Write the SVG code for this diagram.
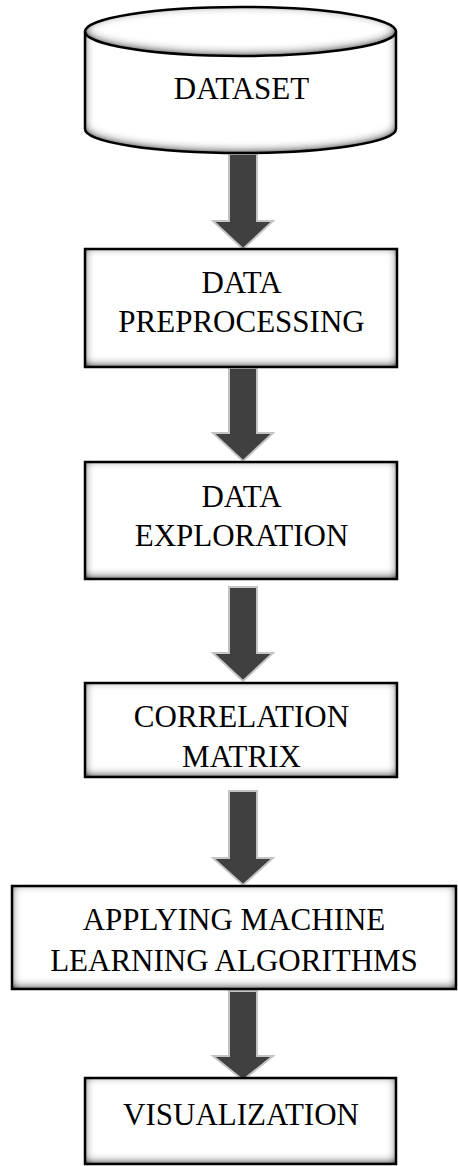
<svg xmlns="http://www.w3.org/2000/svg" width="458" height="1166" viewBox="0 0 458 1166">
  <style>
    .fill { fill: #ffffff; filter: url(#innerShade); }
    .edge { fill: none; stroke: #000000; stroke-width: 2.5; }
    .label { font-family: "Liberation Serif", "Times New Roman", serif; font-size: 31px; fill: #000000; text-anchor: middle; }
    .arrow { fill: #404040; stroke: #c4c4c4; stroke-width: 2; stroke-linejoin: miter; }
  </style>
  <defs>
    <!-- soft grey shading along the inside of each shape, a little heavier at the bottom -->
    <filter id="innerShade" x="-10%" y="-20%" width="120%" height="140%">
      <feComponentTransfer in="SourceAlpha" result="inv">
        <feFuncA type="table" tableValues="1 0"/>
      </feComponentTransfer>
      <feGaussianBlur in="inv" stdDeviation="5" result="blur"/>
      <feOffset in="blur" dy="-2" result="off"/>
      <feComponentTransfer in="off" result="boost">
        <feFuncA type="linear" slope="1.5" intercept="0"/>
      </feComponentTransfer>
      <feFlood flood-color="#000000" flood-opacity="0.85" result="col"/>
      <feComposite in="col" in2="boost" operator="in" result="shade"/>
      <feComposite in="shade" in2="SourceAlpha" operator="in" result="inner"/>
      <feMerge>
        <feMergeNode in="SourceGraphic"/>
        <feMergeNode in="inner"/>
      </feMerge>
    </filter>
  </defs>

  <!-- connectors: block arrows between steps -->
  <g id="connectors">
    <polygon class="arrow" points="229,154 257,154 257,221 273,221 243,249 213,221 229,221"/>
    <polygon class="arrow" points="229,368 257,368 257,433 273,433 243,461 213,433 229,433"/>
    <polygon class="arrow" points="229,587 257,587 257,653 273,653 243,681 213,653 229,653"/>
    <polygon class="arrow" points="229,791 257,791 257,858 273,858 243,885 213,858 229,858"/>
    <polygon class="arrow" points="229,991 257,991 257,1056 273,1056 243,1080 213,1056 229,1056"/>
  </g>

  <!-- dataset cylinder -->
  <g id="node-dataset">
    <path class="fill" d="M85,31.5 A155.5,24.5 0 0 1 396,31.5 L396,129 A155.5,24 0 0 1 85,129 Z"/>
    <ellipse class="fill" cx="240.5" cy="31.5" rx="155.5" ry="24.5"/>
    <path class="edge" d="M85,31.5 A155.5,24.5 0 0 1 396,31.5 L396,129 A155.5,24 0 0 1 85,129 Z"/>
    <path class="edge" d="M85,31.5 A155.5,24.5 0 0 0 396,31.5"/>
    <text class="label" x="241.5" y="99">DATASET</text>
  </g>

  <g id="node-preprocessing">
    <rect class="fill" x="85" y="249" width="312" height="118"/>
    <rect class="edge" x="85" y="249" width="312" height="118"/>
    <text class="label" x="241.5" y="293">DATA</text>
    <text class="label" x="241.5" y="332">PREPROCESSING</text>
  </g>

  <g id="node-exploration">
    <rect class="fill" x="85" y="462" width="312" height="117"/>
    <rect class="edge" x="85" y="462" width="312" height="117"/>
    <text class="label" x="241.5" y="507">DATA</text>
    <text class="label" x="241.5" y="546">EXPLORATION</text>
  </g>

  <g id="node-correlation">
    <rect class="fill" x="85" y="683" width="312" height="94"/>
    <rect class="edge" x="85" y="683" width="312" height="94"/>
    <text class="label" x="241.5" y="727">CORRELATION</text>
    <text class="label" x="241.5" y="767">MATRIX</text>
  </g>

  <g id="node-ml">
    <rect class="fill" x="12" y="886" width="444" height="103"/>
    <rect class="edge" x="12" y="886" width="444" height="103"/>
    <text class="label" x="234" y="930">APPLYING MACHINE</text>
    <text class="label" x="234" y="971">LEARNING ALGORITHMS</text>
  </g>

  <g id="node-visualization">
    <rect class="fill" x="85" y="1078" width="311" height="86"/>
    <rect class="edge" x="85" y="1078" width="311" height="86"/>
    <text class="label" x="241" y="1125">VISUALIZATION</text>
  </g>
</svg>
